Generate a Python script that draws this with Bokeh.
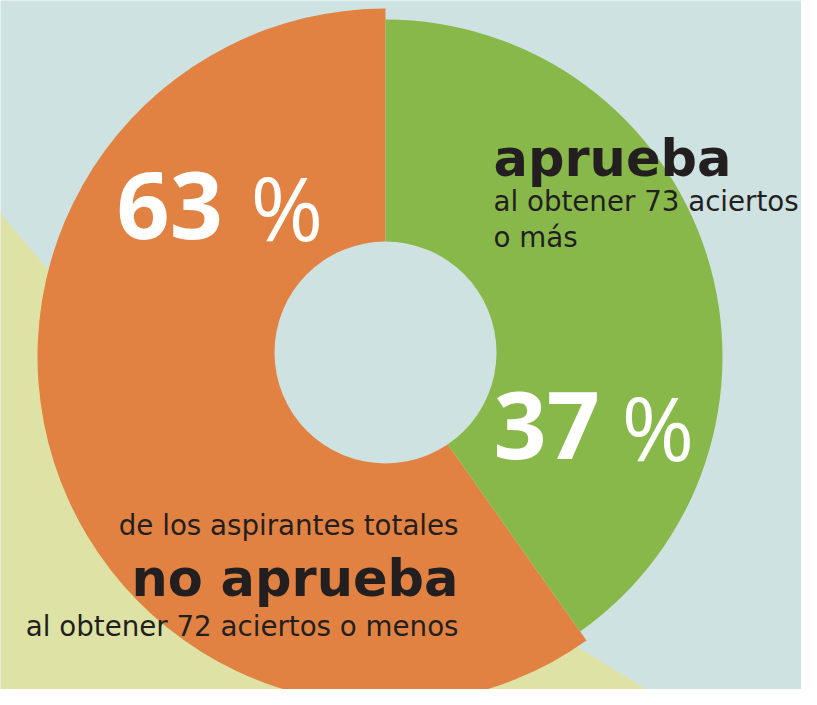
import math
from bokeh.plotting import figure
from bokeh.models import Range1d, ColumnDataSource
from bokeh.core.properties import value
from bokeh.embed import file_html
from bokeh.resources import INLINE

# ---- data ----
categories = ["no aprueba", "aprueba"]
pct_values = [63, 37]
pct_labels = ["63", "37"]
drawn_share = [59.8, 40.2]   # share of the ring as it is drawn in the picture
slice_colors = ["#e18242", "#89b84a"]

BG = "#cee2e2"
YELLOW = "#dee3a5"
DARK = "#231f20"
NUM_FONT = "Open Sans"
LBL_FONT = "DejaVu Sans"

W, H = 801, 689
p = figure(width=W, height=H, output_backend="svg", toolbar_location=None,
           x_range=Range1d(0, 801), y_range=Range1d(16, 705), min_border=0)
p.axis.visible = False
p.grid.visible = False
p.outline_line_color = None
p.background_fill_color = BG
p.border_fill_color = BG


def Y(v):
    return 705 - v


K = 0.4  # baseline correction (fraction of font size)


def TB(baseline, size):
    return Y(baseline) + K * size


# background shape (decoration)
bg_xs = [0, 137, 672, 0]
bg_ys = [213, 375, 705, 705]
p.patch(bg_xs, [Y(v) for v in bg_ys], fill_color=YELLOW, line_color=None)

cx, cy = 385, Y(356)
outer_r = [348, 337]
# orange: anticlockwise from the top; green: clockwise from the top
g_share = drawn_share[1]
o_share = drawn_share[0]
starts = [math.radians(90), math.radians(90 - 360 * g_share / 100)]
ends = [math.radians(90 + 360 * o_share / 100), math.radians(90)]
src = ColumnDataSource(dict(x=[cx, cx], y=[cy, cy], r=outer_r, s=starts, e=ends,
                            c=slice_colors, cat=categories))
p.wedge(x="x", y="y", radius="r", start_angle="s", end_angle="e",
        direction="anticlock", fill_color="c", line_color=None, source=src)
p.circle(x=[385], y=[Y(352)], radius=111, fill_color=BG, line_color=None)

# percentage labels
NS = 93
p.text(x=[116, 493], y=[TB(242, NS), TB(462, NS)], text=pct_labels, text_color="white",
       text_font=value(NUM_FONT), text_font_style="bold", text_font_size=f"{NS}px",
       text_baseline="alphabetic", text_align="left")
PS = 88
p.text(x=[250, 621], y=[TB(242, PS), TB(462, PS)], text=["%", "%"], text_color="white",
       text_font=value(NUM_FONT), text_font_style="normal", text_font_size=f"{PS}px",
       text_baseline="alphabetic", text_align="left")

BS = 51
RS = 27.7
# aprueba block
p.text(x=[493], y=[TB(178, BS)], text=["aprueba"], text_color=DARK, text_font=value(LBL_FONT),
       text_font_style="bold", text_font_size=f"{BS}px", text_baseline="alphabetic")
p.text(x=[493, 493], y=[TB(212, RS), TB(248, RS)], text=["al obtener 73 aciertos", "o más"],
       text_color=DARK, text_font=value(LBL_FONT), text_font_size=f"{RS}px",
       text_baseline="alphabetic")

# no aprueba block
p.text(x=[458], y=[TB(536, RS)], text=["de los aspirantes totales"], text_color=DARK,
       text_font=value(LBL_FONT), text_font_size=f"{RS}px", text_baseline="alphabetic",
       text_align="right")
p.text(x=[458], y=[TB(598, BS)], text=["no aprueba"], text_color=DARK, text_font=value(LBL_FONT),
       text_font_style="bold", text_font_size=f"{BS}px", text_baseline="alphabetic",
       text_align="right")
p.text(x=[458], y=[TB(637, RS)], text=["al obtener 72 aciertos o menos"], text_color=DARK,
       text_font=value(LBL_FONT), text_font_size=f"{RS}px", text_baseline="alphabetic",
       text_align="right")

open("out.html", "w").write(file_html(p, INLINE))
